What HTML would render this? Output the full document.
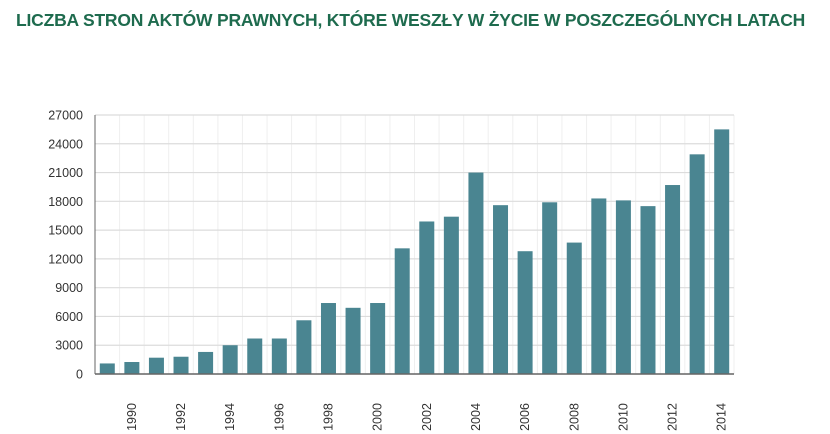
<!DOCTYPE html>
<html><head><meta charset="utf-8"><style>
body{margin:0;background:#fff;width:830px;height:434px;overflow:hidden;font-family:"Liberation Sans",sans-serif}
#title{position:absolute;left:16px;top:10px;font-size:17.5px;font-weight:bold;color:#1e6b4e;letter-spacing:-0.2px;white-space:nowrap}
</style></head><body>
<div id="title">LICZBA STRON AKTÓW PRAWNYCH, KTÓRE WESZŁY W ŻYCIE W POSZCZEGÓLNYCH LATACH</div>
<svg id="chart" width="830" height="434" style="position:absolute;left:0;top:0"></svg>
<script>
const years=[1989,1990,1991,1992,1993,1994,1995,1996,1997,1998,1999,2000,2001,2002,2003,2004,2005,2006,2007,2008,2009,2010,2011,2012,2013,2014];
const pages=[1100,1250,1700,1800,2300,3000,3700,3700,5600,7400,6900,7400,13100,15900,16400,21000,17600,12800,17900,13700,18300,18100,17500,19700,22900,25500];
const yTicks=[0,3000,6000,9000,12000,15000,18000,21000,24000,27000];
const NS="http://www.w3.org/2000/svg";
const svg=document.getElementById('chart');
const x0=95,x1=734,yB=374,yT=115,yMax=27000;
const step=(x1-x0)/years.length;
const y=v=>yB-(v/yMax)*(yB-yT);
const xc=i=>x0+step*(i+0.5);
function mk(t,a){const e=document.createElementNS(NS,t);for(const k in a)e.setAttribute(k,a[k]);svg.appendChild(e);return e;}
years.forEach((yr,i)=>{
 const g=mk('line',{x1:x0+step*(i+1),x2:x0+step*(i+1),y1:yT,y2:yB,stroke:'#efefef','stroke-width':1});
 
 
});
yTicks.forEach(v=>{
 const l=mk('line',{x1:x0,x2:x1,y1:y(v),y2:y(v),stroke:'#dcdcdc','stroke-width':1.2});
 
 
 const t=mk('text',{x:83,y:y(v)+4.5,'text-anchor':'end','font-size':12.5,fill:'#333','font-family':'Liberation Sans, sans-serif'});
 t.textContent=v;
 
 
});
pages.forEach((v,i)=>{
 const r=mk('rect',{x:xc(i)-7.5,y:y(v),width:15,height:yB-y(v),fill:'#4a8591'});
 
 
});
years.forEach((yr,i)=>{
 if(yr%2!==0)return;
 const cx=xc(i)+4,cy=417;
 const t=mk('text',{x:cx,y:cy,'text-anchor':'middle','font-size':12.5,fill:'#333','font-family':'Liberation Sans, sans-serif',transform:`rotate(-90 ${cx} ${cy})`});
 t.textContent=yr;
 
 
});
const ax=mk('line',{x1:x0,x2:x1,y1:yB,y2:yB,stroke:'#666','stroke-width':1.5});


const ay=mk('line',{x1:x0,x2:x0,y1:yT,y2:yB,stroke:'#666','stroke-width':1});


</script>
</body></html>
